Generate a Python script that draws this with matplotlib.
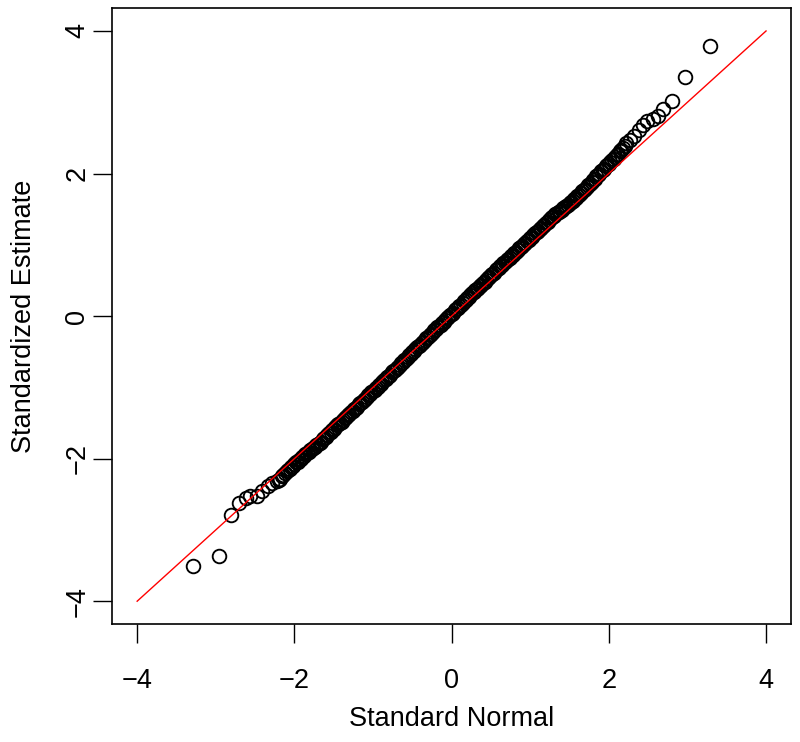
import matplotlib
matplotlib.use("Agg")
import matplotlib.pyplot as plt

# ---- Data ----
# lower tail, sparse circles
x_low = [-3.29, -2.96, -2.81, -2.70, -2.61, -2.56, -2.48, -2.41, -2.34, -2.28, -2.22]
y_low = [-3.51, -3.36, -2.79, -2.62, -2.55, -2.52, -2.52, -2.45, -2.39, -2.34, -2.32]

# dense middle band
x_mid = [-2.20, -2.18, -2.16, -2.14, -2.12, -2.10, -2.08, -2.06, -2.04, -2.02,
         -2.00, -1.98, -1.96, -1.94, -1.92, -1.90, -1.88, -1.86, -1.84, -1.82,
         -1.80, -1.78, -1.76, -1.74, -1.72, -1.70, -1.68, -1.66, -1.64, -1.62,
         -1.60, -1.58, -1.56, -1.54, -1.52, -1.50, -1.48, -1.46, -1.44, -1.42,
         -1.40, -1.38, -1.36, -1.34, -1.32, -1.30, -1.28, -1.26, -1.24, -1.22,
         -1.20, -1.18, -1.16, -1.14, -1.12, -1.10, -1.08, -1.06, -1.04, -1.02,
         -1.00, -0.98, -0.96, -0.94, -0.92, -0.90, -0.88, -0.86, -0.84, -0.82,
         -0.80, -0.78, -0.76, -0.74, -0.72, -0.70, -0.68, -0.66, -0.64, -0.62,
         -0.60, -0.58, -0.56, -0.54, -0.52, -0.50, -0.48, -0.46, -0.44, -0.42,
         -0.40, -0.38, -0.36, -0.34, -0.32, -0.30, -0.28, -0.26, -0.24, -0.22,
         -0.20, -0.18, -0.16, -0.14, -0.12, -0.10, -0.08, -0.06, -0.04, -0.02,
         0.00, 0.02, 0.04, 0.06, 0.08, 0.10, 0.12, 0.14, 0.16, 0.18,
         0.20, 0.22, 0.24, 0.26, 0.28, 0.30, 0.32, 0.34, 0.36, 0.38,
         0.40, 0.42, 0.44, 0.46, 0.48, 0.50, 0.52, 0.54, 0.56, 0.58,
         0.60, 0.62, 0.64, 0.66, 0.68, 0.70, 0.72, 0.74, 0.76, 0.78,
         0.80, 0.82, 0.84, 0.86, 0.88, 0.90, 0.92, 0.94, 0.96, 0.98,
         1.00, 1.02, 1.04, 1.06, 1.08, 1.10, 1.12, 1.14, 1.16, 1.18,
         1.20, 1.22, 1.24, 1.26, 1.28, 1.30, 1.32, 1.34, 1.36, 1.38,
         1.40, 1.42, 1.44, 1.46, 1.48, 1.50, 1.52, 1.54, 1.56, 1.58,
         1.60, 1.62, 1.64, 1.66, 1.68, 1.70, 1.72, 1.74, 1.76, 1.78,
         1.80, 1.82, 1.84, 1.86, 1.88, 1.90, 1.92, 1.94, 1.96, 1.98,
         2.00, 2.02, 2.04, 2.06, 2.08, 2.10, 2.12, 2.14, 2.16, 2.18, 2.20]
y_mid = [-2.30, -2.28, -2.25, -2.23, -2.20, -2.18, -2.16, -2.14, -2.12, -2.10,
         -2.08, -2.05, -2.04, -2.02, -2.01, -1.98, -1.96, -1.93, -1.92, -1.90,
         -1.88, -1.86, -1.85, -1.83, -1.81, -1.79, -1.78, -1.76, -1.73, -1.71,
         -1.69, -1.67, -1.64, -1.62, -1.60, -1.58, -1.56, -1.53, -1.52, -1.50,
         -1.48, -1.46, -1.43, -1.41, -1.39, -1.37, -1.35, -1.33, -1.30, -1.29,
         -1.27, -1.24, -1.22, -1.20, -1.18, -1.16, -1.14, -1.11, -1.09, -1.07,
         -1.05, -1.03, -1.01, -0.99, -0.97, -0.95, -0.92, -0.90, -0.88, -0.86,
         -0.84, -0.82, -0.79, -0.77, -0.75, -0.73, -0.71, -0.68, -0.66, -0.64,
         -0.62, -0.60, -0.57, -0.55, -0.53, -0.51, -0.49, -0.46, -0.44, -0.42,
         -0.40, -0.38, -0.36, -0.33, -0.31, -0.29, -0.27, -0.25, -0.22, -0.20,
         -0.18, -0.16, -0.14, -0.12, -0.10, -0.08, -0.05, -0.03, -0.01, 0.01,
         0.03, 0.05, 0.08, 0.10, 0.12, 0.14, 0.16, 0.19, 0.21, 0.23,
         0.25, 0.27, 0.29, 0.32, 0.34, 0.36, 0.38, 0.40, 0.42, 0.44,
         0.46, 0.48, 0.51, 0.53, 0.55, 0.57, 0.59, 0.61, 0.64, 0.66,
         0.68, 0.70, 0.72, 0.74, 0.76, 0.78, 0.80, 0.82, 0.84, 0.86,
         0.88, 0.90, 0.93, 0.95, 0.97, 0.99, 1.01, 1.03, 1.05, 1.07,
         1.09, 1.11, 1.14, 1.16, 1.18, 1.20, 1.22, 1.24, 1.26, 1.28,
         1.30, 1.32, 1.35, 1.37, 1.39, 1.41, 1.43, 1.44, 1.46, 1.48,
         1.49, 1.51, 1.53, 1.54, 1.56, 1.58, 1.60, 1.62, 1.64, 1.66,
         1.68, 1.70, 1.72, 1.75, 1.77, 1.79, 1.81, 1.84, 1.86, 1.88,
         1.91, 1.93, 1.96, 1.98, 2.00, 2.03, 2.05, 2.07, 2.10, 2.12,
         2.14, 2.16, 2.19, 2.21, 2.23, 2.26, 2.28, 2.31, 2.33, 2.36, 2.39]

# upper tail, sparse circles
x_high = [2.22, 2.27, 2.32, 2.39, 2.44, 2.49, 2.56, 2.63, 2.69, 2.81, 2.97, 3.29]
y_high = [2.43, 2.47, 2.53, 2.61, 2.68, 2.73, 2.76, 2.81, 2.90, 3.02, 3.35, 3.79]

ref_line = [-4, 4]
ticks = [-4, -2, 0, 2, 4]
tick_labels = ["\u22124", "\u22122", "0", "2", "4"]

# ---- Plot ----
plt.rcParams["font.family"] = ["Liberation Sans", "DejaVu Sans"]

fig = plt.figure(figsize=(8.0, 7.42), dpi=100)
ax = fig.add_axes([0.14, 0.159, 0.849, 0.830])

xs = x_low + x_mid + x_high
ys = y_low + y_mid + y_high
ax.plot(xs, ys, linestyle="none", marker="o", markersize=9.8,
        markerfacecolor="none", markeredgecolor="black", markeredgewidth=1.35)
ax.plot(ref_line, ref_line, color="red", linewidth=1.0)

ax.set_xlim(-4.32, 4.32)
ax.set_ylim(-4.32, 4.32)
ax.set_xticks(ticks)
ax.set_yticks(ticks)
ax.set_xticklabels(tick_labels)
ax.set_yticklabels(tick_labels, rotation=90, va="center")
ax.tick_params(direction="out", length=13.5, width=1.0, labelsize=19.5)
ax.tick_params(axis="x", pad=18)
ax.tick_params(axis="y", pad=2)

for s in ax.spines.values():
    s.set_linewidth(1.2)

ax.set_xlabel("Standard Normal", fontsize=19.5)
ax.set_ylabel("Standardized Estimate", fontsize=19.5)
ax.xaxis.set_label_coords(0.5, -0.133)
ax.yaxis.set_label_coords(-0.11, 0.5)

fig.savefig("out.png", dpi=100)
